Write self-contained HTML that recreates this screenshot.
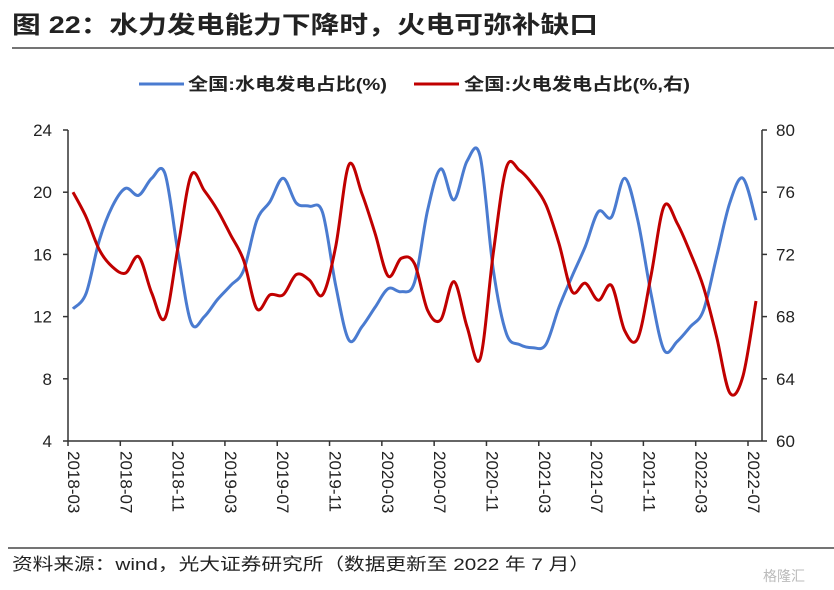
<!DOCTYPE html>
<html><head><meta charset="utf-8"><style>
body{margin:0;background:#fff;}
svg{display:block;font-family:"Liberation Sans","Noto Sans CJK SC",sans-serif;}
</style></head><body>
<svg width="834" height="590" viewBox="0 0 834 590">
<text x="12" y="33" font-size="24" font-weight="bold" fill="#222" textLength="586" lengthAdjust="spacingAndGlyphs">图 22：水力发电能力下降时，火电可弥补缺口</text>
<line x1="12" y1="48" x2="834" y2="48" stroke="#222" stroke-width="1.2"/>
<g>
<line x1="139" y1="84" x2="184" y2="84" stroke="#4a7bd0" stroke-width="3"/>
<text x="188" y="90" font-size="17" font-weight="bold" fill="#222" textLength="199" lengthAdjust="spacingAndGlyphs">全国:水电发电占比(%)</text>
<line x1="414" y1="84" x2="459" y2="84" stroke="#c00000" stroke-width="3"/>
<text x="464" y="90" font-size="17" font-weight="bold" fill="#222" textLength="226" lengthAdjust="spacingAndGlyphs">全国:火电发电占比(%,右)</text>
</g>
<g id="axes"></g>
<g id="series"></g>
<line x1="8" y1="548" x2="834" y2="548" stroke="#222" stroke-width="1.2"/>
<text x="12" y="570" font-size="17" fill="#222" textLength="578" lengthAdjust="spacingAndGlyphs">资料来源：wind，光大证券研究所（数据更新至 2022 年 7 月）</text>
<text x="763" y="581" font-size="14" fill="#bbb">格隆汇</text>
</svg>
<script>
const xLabels=["2018-03","2018-07","2018-11","2019-03","2019-07","2019-11","2020-03","2020-07","2020-11","2021-03","2021-07","2021-11","2022-03","2022-07"];
const leftTicks=[4,8,12,16,20,24];
const rightTicks=[60,64,68,72,76,80];
const hydro=[12.5,13.5,16.9,19.1,20.25,19.8,20.9,21.2,16.1,11.6,12.0,13.1,14.0,15.0,18.2,19.4,20.9,19.3,19.1,18.7,14.0,10.5,11.35,12.6,13.8,13.6,14.2,18.85,21.5,19.5,22.0,22.3,15.0,10.9,10.2,10.0,10.2,12.6,14.6,16.5,18.75,18.4,20.9,18.2,13.5,9.85,10.4,11.35,12.4,15.85,19.3,20.9,18.2];
const thermal=[76.0,74.4,72.3,71.2,70.8,71.85,69.5,67.9,72.5,77.1,76.1,74.85,73.25,71.6,68.5,69.4,69.4,70.7,70.35,69.4,72.5,77.75,75.9,73.35,70.6,71.75,71.4,68.4,67.8,70.25,67.35,65.3,72.1,77.6,77.4,76.5,75.2,72.7,69.6,70.15,69.05,70.0,67.1,66.6,70.6,75.1,74.0,72.1,69.9,66.7,63.1,64.15,69.0];
const NS="http://www.w3.org/2000/svg";
const X0=68,X1=762,YT=130,YB=441;
const xi=i=>73+i*(683/52);
const yL=v=>YB-(v-4)/20*(YB-YT);
const yR=v=>YB-(v-60)/20*(YB-YT);
function mk(t,a,p){const e=document.createElementNS(NS,t);for(const k in a)e.setAttribute(k,a[k]);p.appendChild(e);return e;}
const ax=document.getElementById('axes');
let e;
e=mk('line',{x1:X0,y1:YT,x2:X0,y2:YB,stroke:'#333','stroke-width':1.5},ax);


e=mk('line',{x1:X1,y1:YT,x2:X1,y2:YB,stroke:'#333','stroke-width':1.5},ax);


e=mk('line',{x1:X0,y1:YB,x2:X1,y2:YB,stroke:'#333','stroke-width':1.5},ax);


leftTicks.forEach(v=>{const y=yL(v);
 e=mk('line',{x1:X0-5,y1:y,x2:X0,y2:y,stroke:'#333','stroke-width':1.5},ax);
 
 
 e=mk('text',{x:X0-16,y:y+6,'font-size':17,'text-anchor':'end',fill:'#222'},ax);e.textContent=v;
 
 });
rightTicks.forEach(v=>{const y=yR(v);
 e=mk('line',{x1:X1,y1:y,x2:X1+5,y2:y,stroke:'#333','stroke-width':1.5},ax);
 
 
 e=mk('text',{x:X1+14,y:y+6,'font-size':17,fill:'#222'},ax);e.textContent=v;
 
 });
xLabels.forEach((l,k)=>{const x=X0+k*(X1-X0-14)/13;
 e=mk('line',{x1:x,y1:YB,x2:x,y2:YB+5,stroke:'#333','stroke-width':1.5},ax);
 
 
 e=mk('text',{x:0,y:0,'font-size':17,fill:'#222',transform:`translate(${x+0},451) rotate(90)`},ax);e.textContent=l;
 
 });
function smooth(pts){let d=`M${pts[0][0]},${pts[0][1]}`;
 for(let i=0;i<pts.length-1;i++){const p0=pts[i-1]||pts[i],p1=pts[i],p2=pts[i+1],p3=pts[i+2]||p2;
 d+=` C${p1[0]+(p2[0]-p0[0])/6},${p1[1]+(p2[1]-p0[1])/6} ${p2[0]-(p3[0]-p1[0])/6},${p2[1]-(p3[1]-p1[1])/6} ${p2[0]},${p2[1]}`;}
 return d;}
const sg=document.getElementById('series');
e=mk('path',{d:smooth(hydro.map((v,i)=>[xi(i),yL(v)])),fill:'none',stroke:'#4a7bd0','stroke-width':3},sg);


e=mk('path',{d:smooth(thermal.map((v,i)=>[xi(i),yR(v)])),fill:'none',stroke:'#c00000','stroke-width':3},sg);


</script>
</body></html>
